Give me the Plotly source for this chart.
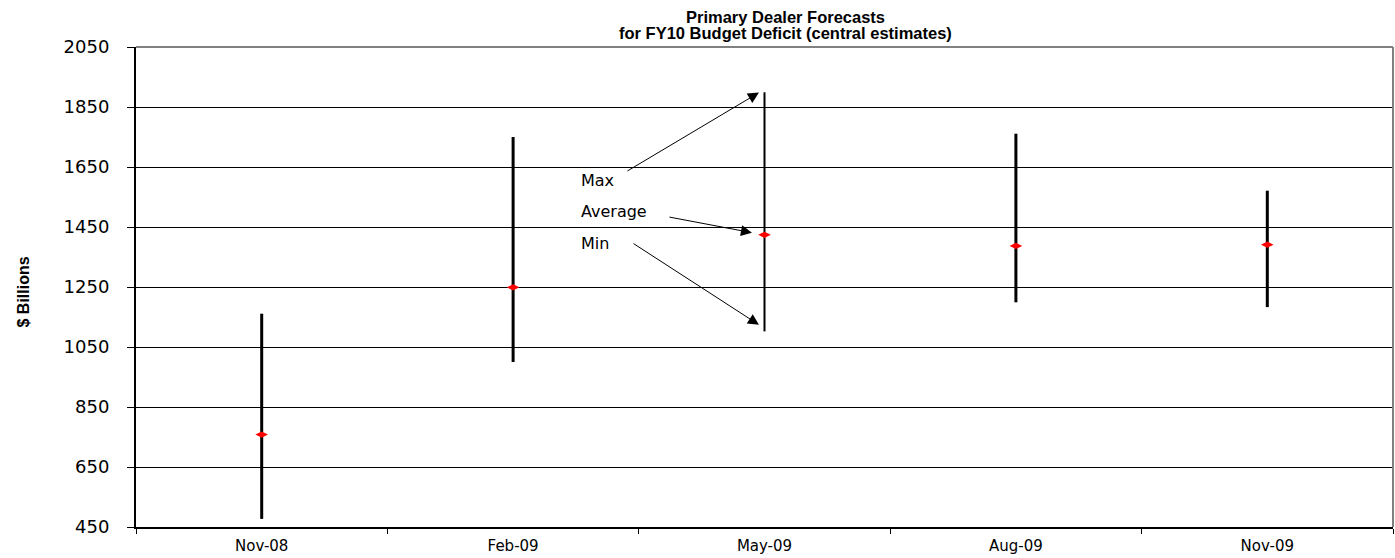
import plotly.graph_objects as go

# Primary dealer forecasts of the FY10 budget deficit, $ billions
categories = ["Nov-08", "Feb-09", "May-09", "Aug-09", "Nov-09"]
max_vals = [1161, 1750, 1899, 1761, 1571]
min_vals = [477, 1000, 1102, 1199, 1183]
avg_vals = [758, 1249, 1424, 1387, 1391]

y_ticks = [450, 650, 850, 1050, 1250, 1450, 1650, 1850, 2050]

# key: label text, label anchor (category index, value), arrow tail, arrow head
key_labels = ["Max", "Average", "Min"]
key_label_pos = [(1.262, 1604), (1.262, 1501), (1.262, 1394)]
key_arrow_tail = [(1.449, 1634), (1.616, 1484), (1.473, 1398)]
key_arrow_head = [(1.978, 1898), (1.950, 1431), (1.978, 1124)]

whisker_width = {"May-09": 2}
BODY_FONT = "DejaVu Sans, Liberation Sans, Arial, sans-serif"
BOLD_FONT = "Liberation Sans, Arial, sans-serif"

fig = go.Figure()

# high-low range lines
for cat, lo, hi in zip(categories, min_vals, max_vals):
    fig.add_trace(go.Scatter(
        x=[cat, cat], y=[lo, hi], mode="lines",
        line=dict(color="black", width=whisker_width.get(cat, 3)),
        hoverinfo="skip", showlegend=False,
    ))

# averages
fig.add_trace(go.Scatter(
    x=categories, y=avg_vals, mode="markers",
    marker=dict(symbol="diamond-wide", size=9, color="#ff0000",
                line=dict(width=0)),
    showlegend=False,
))

annotations = []
for text, (lx, ly) in zip(key_labels, key_label_pos):
    annotations.append(dict(
        x=lx, y=ly, xref="x", yref="y", text=text, showarrow=False,
        xanchor="left", yanchor="middle",
        font=dict(family=BODY_FONT, size=16, color="black"),
    ))
for (tx, ty), (hx, hy) in zip(key_arrow_tail, key_arrow_head):
    annotations.append(dict(
        x=hx, y=hy, ax=tx, ay=ty, xref="x", yref="y", axref="x", ayref="y",
        text="", showarrow=True, arrowhead=2, arrowsize=2.2, arrowwidth=1,
        arrowcolor="black", standoff=0, startstandoff=0,
    ))

# two-line title and rotated axis title
annotations += [
    dict(x=0.5167, y=(527 - 17) / 480, xref="paper", yref="paper",
         text="<b>Primary Dealer Forecasts</b>", showarrow=False,
         xanchor="center", yanchor="middle",
         font=dict(family=BOLD_FONT, size=16.5, color="black")),
    dict(x=0.5167, y=(527 - 33) / 480, xref="paper", yref="paper",
         text="<b>for FY10 Budget Deficit (central estimates)</b>", showarrow=False,
         xanchor="center", yanchor="middle",
         font=dict(family=BOLD_FONT, size=16.5, color="black")),
    dict(x=(22.5 - 136) / 1257, y=(527 - 292) / 480, xref="paper", yref="paper",
         text="<b>$ Billions</b>", showarrow=False, textangle=-90,
         xanchor="center", yanchor="middle",
         font=dict(family="Liberation Sans Narrow, " + BOLD_FONT, size=16,
                   color="black")),
]

fig.update_layout(
    width=1395, height=558,
    margin=dict(l=136, r=2, t=47, b=31),
    paper_bgcolor="white", plot_bgcolor="white",
    annotations=annotations,
    shapes=[
        dict(type="line", xref="paper", yref="paper", x0=0, x1=1, y0=1, y1=1,
             line=dict(color="#808080", width=2), layer="above"),
        dict(type="line", xref="paper", yref="paper", x0=1, x1=1, y0=0, y1=1,
             line=dict(color="#808080", width=2), layer="above"),
    ],
)

fig.update_xaxes(
    type="category", categoryorder="array", categoryarray=categories,
    range=[-0.5, len(categories) - 0.5],
    tickson="boundaries", ticks="outside", ticklen=5, tickcolor="black",
    showgrid=False, showline=True, linecolor="black", linewidth=2,
    tickfont=dict(family=BODY_FONT, size=15, color="black"),
    ticklabelstandoff=4, zeroline=False,
)
fig.update_yaxes(
    range=[450, 2050], tickmode="array", tickvals=y_ticks,
    ticktext=[str(v) for v in y_ticks],
    ticks="outside", ticklen=7, tickcolor="black",
    showgrid=True, gridcolor="black", gridwidth=1,
    showline=True, linecolor="black", linewidth=2,
    tickfont=dict(family=BODY_FONT, size=18, color="black"),
    ticklabelstandoff=14, zeroline=False,
)

fig.write_html("out.html")
